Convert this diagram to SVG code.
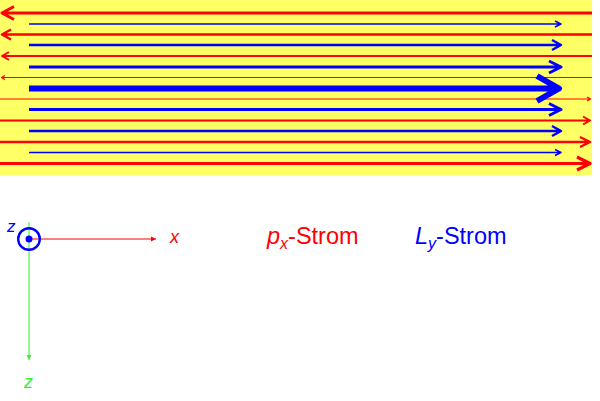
<svg xmlns="http://www.w3.org/2000/svg" width="600" height="401" viewBox="0 0 600 401">
<style>
.r{fill:none;stroke:#ff0000;stroke-linejoin:round;stroke-linecap:butt}
.b{fill:none;stroke:#0000ff;stroke-linejoin:round;stroke-linecap:butt}
.lab{font-family:"Liberation Sans",Arial,sans-serif}
</style>
<defs>
<marker id="ax" markerUnits="userSpaceOnUse" markerWidth="6" markerHeight="6" viewBox="-5 -3 6 6" refX="0" refY="0" orient="auto"><path d="M-5,-2.5 L0,0 L-5,2.5 Z" fill="#ff0000"/></marker>
<marker id="az" markerUnits="userSpaceOnUse" markerWidth="6" markerHeight="6" viewBox="-5 -3 6 6" refX="0" refY="0" orient="auto"><path d="M-5,-2.5 L0,0 L-5,2.5 Z" fill="#33ee33"/></marker>
</defs>
<g id="field">
<rect x="0" y="0" width="592" height="175" fill="#ffff66"/>
</g>
<g id="connectors">
<!-- red px currents -->
<path class="r" stroke-width="3" d="M592,13 H2 M14,6.5 L2,13 L14,19.5"/>
<path class="r" stroke-width="2.5" d="M592,34.5 H2 M11,29.5 L2,34.5 L11,39.5"/>
<path class="r" stroke-width="2" d="M592,56 H2 M9,52 L2,56 L9,60"/>
<path class="r" stroke-width="1.2" d="M592,77.5 H1.5 M5,75.5 L1.5,77.5 L5,79.5"/>
<path class="r" stroke-width="1.2" d="M0,99 H590.5 M587,97 L590.5,99 L587,101"/>
<path class="r" stroke-width="2" d="M0,120.5 H590 M583,116.5 L590,120.5 L583,124.5"/>
<path class="r" stroke-width="2.5" d="M0,142 H590 M580,137 L590,142 L580,147"/>
<path class="r" stroke-width="3.2" d="M0,163.5 H590 M577,157 L590,163.5 L577,170"/>
<!-- blue Ly currents -->
<path class="b" stroke-width="1.5" d="M29,24 H561 M555,21 L561,24 L555,27"/>
<path class="b" stroke-width="2.5" d="M29,45 H561 M552,40 L561,45 L552,50"/>
<path class="b" stroke-width="3" d="M29,67 H561 M549,61 L561,67 L549,73"/>
<path class="b" stroke-width="6" d="M29,88.5 H558 M537,76 L559,88.5 L537,101"/>
<path class="b" stroke-width="3" d="M29,109.5 H561 M549,103.5 L561,109.5 L549,115.5"/>
<path class="b" stroke-width="2.5" d="M29,131 H561 M552,126 L561,131 L552,136"/>
<path class="b" stroke-width="1.5" d="M29,152.5 H561 M555,149.5 L561,152.5 L555,155.5"/>
<!-- axes -->
<line x1="29" y1="239" x2="156" y2="239" stroke="#ff0000" stroke-width="1" marker-end="url(#ax)"/>
<line x1="29" y1="222" x2="29" y2="360" stroke="#33ee33" stroke-width="1" marker-end="url(#az)"/>
</g>
<g id="yaxis">
<circle cx="29" cy="239" r="10.8" fill="none" stroke="#0000ff" stroke-width="2.4"/>
<circle cx="29" cy="239" r="3.5" fill="#0000ff"/>
</g>
<g id="labels" class="lab">
<text x="7" y="232" font-size="17" fill="#0000ff" font-style="italic">z</text>
<text x="170" y="243" font-size="18" fill="#ff0000" font-style="italic">x</text>
<text x="24" y="388" font-size="18" fill="#33ee33" font-style="italic">z</text>
<text x="267" y="244" font-size="23.5" fill="#ff0000"><tspan font-style="italic">p</tspan><tspan font-style="italic" font-size="16" dy="5">x</tspan><tspan dy="-5">-Strom</tspan></text>
<text x="415" y="244" font-size="23.5" fill="#0000ff"><tspan font-style="italic">L</tspan><tspan font-style="italic" font-size="16" dy="5">y</tspan><tspan dy="-5">-Strom</tspan></text>
</g>
</svg>
